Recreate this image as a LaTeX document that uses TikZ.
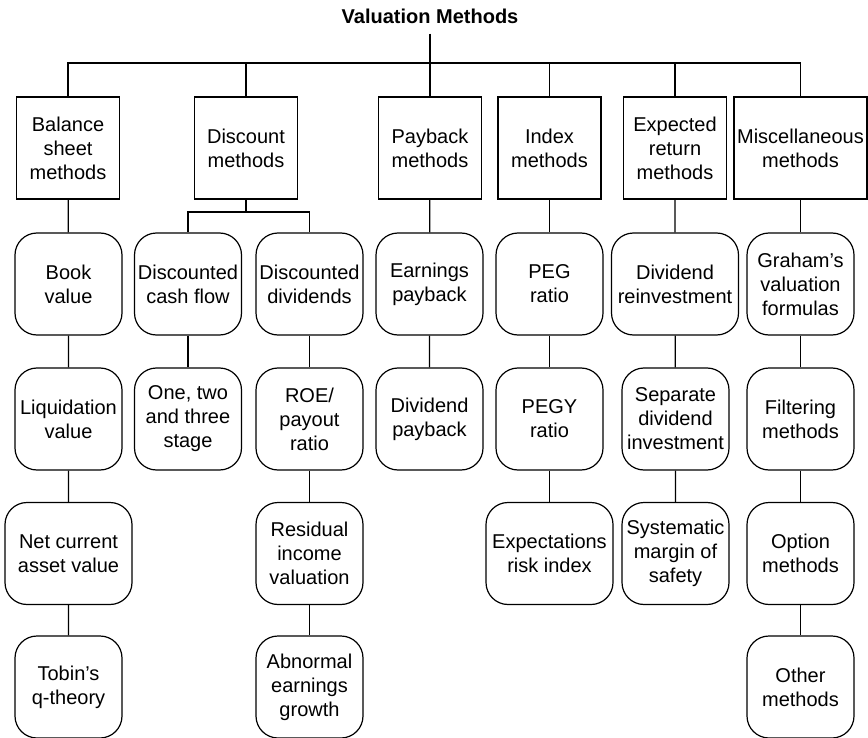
\documentclass[tikz,border=0pt]{standalone}
\usepackage{fontspec}
\setmainfont{Liberation Sans}
\tikzset{
  topbox/.style={draw, rectangle, line width=0.6pt, minimum width=51.5pt,
    minimum height=51pt, align=center, inner xsep=1pt},
  leafbox/.style={draw, rounded corners=11pt, line width=0.6pt,
    minimum width=53.5pt, minimum height=51pt, align=center, inner xsep=1pt},
  widebox/.style={minimum width=63.5pt},
  link/.style={line width=0.6pt}
}
\begin{document}
\begin{tikzpicture}[x=0.5pt, y=-0.5pt, font=\fontsize{10}{12}\selectfont]
  \useasboundingbox (0,0) rectangle (868,738);

  % 标题
  \node[font=\fontsize{10}{12}\selectfont\bfseries, inner ysep=4.9pt] (title) at (430,16) {Valuation Methods};
  \coordinate (hub) at (430,63);

  % 第一层：方法类别
  \node[topbox] (bal)  at (68,148)  {Balance\\sheet\\methods};
  \node[topbox] (disc) at (246,148) {Discount\\methods};
  \node[topbox] (pay)  at (430,148) {Payback\\methods};
  \node[topbox] (idx)  at (549.5,148) {Index\\methods};
  \node[topbox] (exp)  at (675,148) {Expected\\return\\methods};
  \node[topbox, minimum width=66.5pt] (misc) at (800.5,148) {Miscellaneous\\methods};

  % 第二层
  \node[leafbox] (book) at (68.5,284)  {Book\\value};
  \node[leafbox] (dcf)  at (188,284)   {Discounted\\cash flow};
  \node[leafbox] (ddiv) at (309.5,284) {Discounted\\dividends};
  \node[leafbox] (earn) at (429.5,284) {Earnings\\payback};
  \node[leafbox] (peg)  at (549.5,284) {PEG\\ratio};
  \node[leafbox, widebox] (dre) at (675,284) {Dividend\\reinvestment};
  \node[leafbox] (gra)  at (800.5,284) {Graham's\\valuation\\formulas};

  % 第三层
  \node[leafbox] (liq)   at (68.5,419)  {Liquidation\\value};
  \node[leafbox] (stage) at (188,419)   {One, two\\and three\\stage};
  \node[leafbox] (roe)   at (309.5,419) {ROE/\\payout\\ratio};
  \node[leafbox] (dpay)  at (429.5,419) {Dividend\\payback};
  \node[leafbox] (pegy)  at (549.5,419) {PEGY\\ratio};
  \node[leafbox] (sep)   at (675.5,419) {Separate\\dividend\\investment};
  \node[leafbox] (filt)  at (800.5,419) {Filtering\\methods};

  % 第四层
  \node[leafbox, widebox] (ncav) at (68.5,553.5) {Net current\\asset value};
  \node[leafbox] (res) at (309.5,553.5) {Residual\\income\\valuation};
  \node[leafbox, widebox] (eri) at (549.5,553.5) {Expectations\\risk index};
  \node[leafbox] (sys) at (675.5,553.5) {Systematic\\margin of\\safety};
  \node[leafbox] (opt) at (800.5,553.5) {Option\\methods};

  % 第五层
  \node[leafbox] (tob) at (68.5,687)  {Tobin's\\q-theory};
  \node[leafbox] (abn) at (309.5,687) {Abnormal\\earnings\\growth};
  \node[leafbox] (oth) at (800.5,687) {Other\\methods};

  % 总线连线
  \draw[link] (title.south) -- (hub);
  \foreach \n in {bal,disc,pay,idx,exp,misc}
    \draw[link] (hub) -| (\n.north);

  % 折现法分叉
  \coordinate (dsplit) at (246,212);
  \draw[link] (disc.south) -- (dsplit);
  \draw[link] (dsplit) -| (dcf.north);
  \draw[link] (dsplit) -| (ddiv.north);

  % 纵向连线
  \draw[link] (bal) -- (book) -- (liq) -- (ncav) -- (tob);
  \draw[link] (dcf) -- (stage);
  \draw[link] (ddiv) -- (roe) -- (res) -- (abn);
  \draw[link] (pay) -- (earn) -- (dpay);
  \draw[link] (idx) -- (peg) -- (pegy) -- (eri);
  \draw[link] (exp) -- (dre) -- (sep) -- (sys);
  \draw[link] (misc) -- (gra) -- (filt) -- (opt) -- (oth);

\end{tikzpicture}
\end{document}
